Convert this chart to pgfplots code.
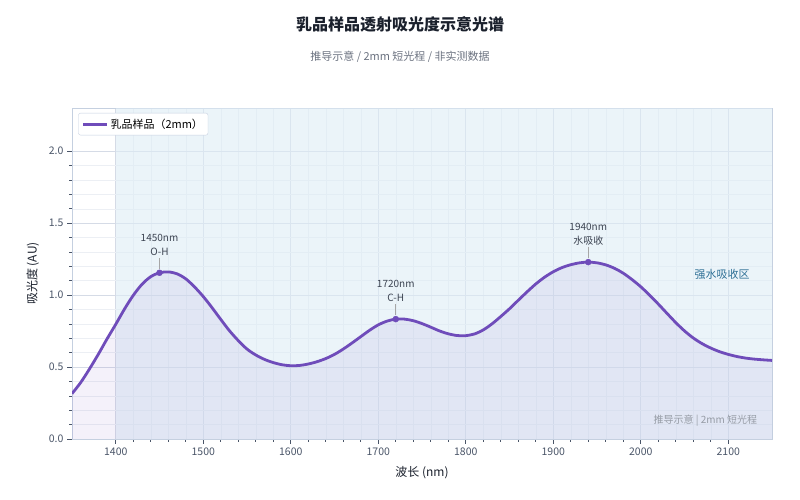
\documentclass[border=0pt]{standalone}
\usepackage{fontspec}
\setmainfont{Noto Sans CJK SC}
\usepackage{pgfplots}
\pgfplotsset{compat=1.18}

\definecolor{curve}{RGB}{111,76,186}
\definecolor{band}{RGB}{222,236,245}
\definecolor{gridmaj}{RGB}{213,219,230}
\definecolor{gridmin}{RGB}{236,239,244}
\definecolor{axisc}{RGB}{197,208,224}
\definecolor{ticktxt}{RGB}{74,85,104}
\definecolor{titlec}{RGB}{26,32,44}
\definecolor{subc}{RGB}{107,114,128}
\definecolor{bandtxt}{RGB}{46,112,150}
\definecolor{notec}{RGB}{60,68,82}
\definecolor{wmark}{RGB}{150,156,166}

% spectrum, every 10 nm
\pgfplotstableread{
x y
1350 0.315
1360 0.393
1370 0.487
1380 0.588
1390 0.695
1400 0.797
1410 0.903
1420 0.998
1430 1.075
1440 1.128
1450 1.155
1460 1.161
1470 1.148
1480 1.113
1490 1.057
1500 0.990
1510 0.913
1520 0.831
1530 0.752
1540 0.684
1550 0.625
1560 0.584
1570 0.553
1580 0.531
1590 0.516
1600 0.509
1610 0.511
1620 0.521
1630 0.537
1640 0.559
1650 0.588
1660 0.625
1670 0.667
1680 0.711
1690 0.755
1700 0.793
1710 0.819
1720 0.833
1730 0.833
1740 0.822
1750 0.802
1760 0.777
1770 0.751
1780 0.731
1790 0.719
1800 0.718
1810 0.730
1820 0.758
1830 0.800
1840 0.851
1850 0.905
1860 0.964
1870 1.022
1880 1.077
1890 1.124
1900 1.162
1910 1.191
1920 1.211
1930 1.224
1940 1.229
1950 1.224
1960 1.210
1970 1.186
1980 1.152
1990 1.108
2000 1.058
2010 1.000
2020 0.938
2030 0.873
2040 0.809
2050 0.751
2060 0.702
2070 0.663
2080 0.632
2090 0.607
2100 0.588
2110 0.573
2120 0.562
2130 0.555
2140 0.550
2150 0.546
}\spectrum

\begin{document}
\begin{tikzpicture}
\useasboundingbox (-72pt,-61pt) rectangle (728pt,439pt);
\begin{axis}[
    at={(0,0)}, anchor=south west,
    scale only axis, width=700pt, height=331pt,
    xmin=1350, xmax=2150, ymin=0, ymax=2.3,
    xtick={1400,1500,...,2100}, ytick={0,0.5,1,1.5,2},
    minor x tick num=4, minor y tick num=4,
    grid=both,
    major grid style={gridmaj, line width=0.6pt},
    minor grid style={gridmin, line width=0.4pt},
    axis line style={axisc, line width=0.8pt},
    tick align=outside, xtick pos=bottom, ytick pos=left,
    major tick length=5pt, minor tick length=3pt,
    tick style={ticktxt, line width=0.6pt},
    ticklabel style={font=\fontsize{10.5}{12}\selectfont, text=ticktxt},
    /pgf/number format/assume math mode=true,
    y tick label style={/pgf/number format/.cd, fixed, fixed zerofill, precision=1, /tikz/.cd},
    x tick label style={/pgf/number format/.cd, set thousands separator={}, /tikz/.cd},
    xlabel={波长 (nm)}, ylabel={吸光度 (AU)},
    label style={font=\fontsize{12}{14}\selectfont, text=titlec},
    xlabel style={at={(axis description cs:0.5,-0.103)}, anchor=center},
    ylabel style={at={(axis description cs:-0.056,0.5)}, anchor=center},
    legend style={at={(axis description cs:0.009,0.985)}, anchor=north west,
        draw=axisc, rounded corners=2pt, fill=white,
        font=\fontsize{11}{13}\selectfont, inner xsep=3pt, inner ysep=3.5pt},
    legend image code/.code={\draw[curve, line width=3pt] (0pt,0pt) -- (24pt,0pt);},
]
    % strong water absorption band
    \fill[band, opacity=0.6] (axis cs:1400,0) rectangle (axis cs:2150,2.3);

    \addplot[draw=none, fill=curve, fill opacity=0.08, smooth, forget plot]
        table[x=x, y=y] {\spectrum} \closedcycle;
    \addplot[curve, line width=2.8pt, smooth, line join=round] table[x=x, y=y] {\spectrum};
    \addlegendentry{乳品样品（2mm）}

    \addplot[only marks, mark=*, mark size=3pt, curve, forget plot]
        coordinates {(1450,1.155) (1720,0.833) (1940,1.229)};

    \draw[gray!70, line width=0.6pt] ([yshift=4pt]axis cs:1450,1.155) -- ([yshift=15pt]axis cs:1450,1.155);
    \draw[gray!70, line width=0.6pt] ([yshift=4pt]axis cs:1720,0.833) -- ([yshift=15pt]axis cs:1720,0.833);
    \draw[gray!70, line width=0.6pt] ([yshift=4pt]axis cs:1940,1.229) -- ([yshift=15pt]axis cs:1940,1.229);

    \node[anchor=south, align=center, font=\fontsize{10}{14}\selectfont, text=notec, inner sep=1pt]
        at ([yshift=16pt]axis cs:1450,1.155) {1450nm\\O-H};
    \node[anchor=south, align=center, font=\fontsize{10}{14}\selectfont, text=notec, inner sep=1pt]
        at ([yshift=16pt]axis cs:1720,0.833) {1720nm\\C-H};
    \node[anchor=south, align=center, font=\fontsize{10}{14}\selectfont, text=notec, inner sep=1pt]
        at ([yshift=16pt]axis cs:1940,1.229) {1940nm\\水吸收};

    \node[font=\fontsize{11}{13}\selectfont, text=bandtxt] at (axis cs:2093,1.146) {强水吸收区};
    \node[anchor=east, font=\fontsize{10}{12}\selectfont, text=wmark] at (axis cs:2137,0.125) {推导示意 | 2mm 短光程};
\end{axis}
\node[font=\fontsize{16}{19}\selectfont\bfseries, text=titlec] at (328pt,415pt) {乳品样品透射吸光度示意光谱};
\node[font=\fontsize{11}{13}\selectfont, text=subc] at (328pt,382pt) {推导示意 / 2mm 短光程 / 非实测数据};
\end{tikzpicture}
\end{document}
